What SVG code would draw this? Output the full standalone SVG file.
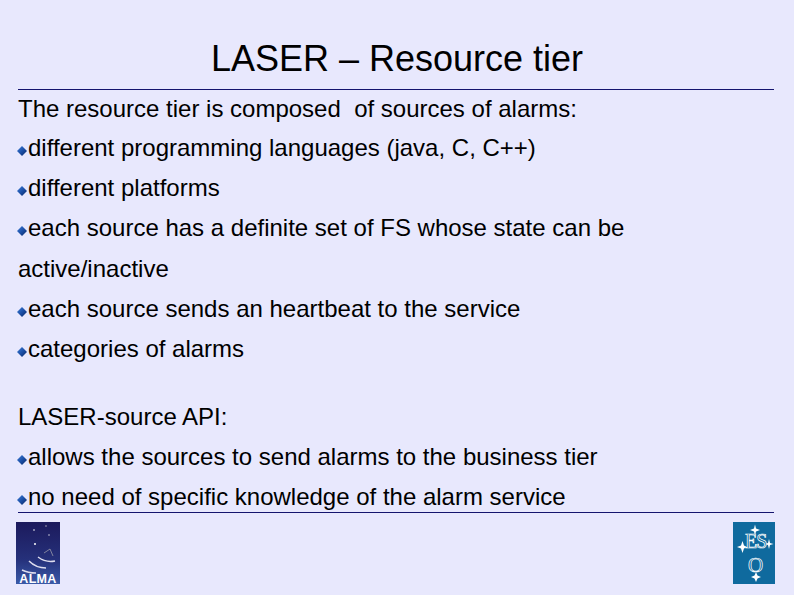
<svg xmlns="http://www.w3.org/2000/svg" width="794" height="595" viewBox="0 0 794 595">
<defs>
<linearGradient id="alma" x1="0" y1="0" x2="0" y2="1"><stop offset="0" stop-color="#1c1a5c"/><stop offset="0.6" stop-color="#25307a"/><stop offset="1" stop-color="#3a5aa8"/></linearGradient>
<linearGradient id="bul" x1="0" y1="0" x2="1" y2="1"><stop offset="0" stop-color="#3f7fd8"/><stop offset="0.5" stop-color="#1c50a8"/><stop offset="1" stop-color="#0a2560"/></linearGradient>
<g id="b"><path d="M0 0L5-5L10 0L5 5Z" fill="url(#bul)"/></g>
</defs>
<style>
text{font-family:"Liberation Sans",Arial,sans-serif;fill:#000;font-size:24px;white-space:pre}
.t{font-size:36px}
.r{stroke:#14146e;stroke-width:1;fill:none}
.s{fill:#fff}
.l{font-family:"Liberation Serif",serif;fill:#0f6a9e;stroke:#fff;stroke-width:0.700}
</style>
<rect width="794" height="595" fill="#e8e8fd"/>
<text class="t" x="397" y="71" text-anchor="middle">LASER – Resource tier</text>
<line class="r" x1="18" y1="89.500" x2="774" y2="89.500"/>
<line class="r" x1="18" y1="512.500" x2="774" y2="512.500"/>
<text x="18" y="117">The resource tier is composed  of sources of alarms:</text>
<use href="#b" x="17" y="151"/><text x="28" y="156">different programming languages (java, C, C++)</text>
<use href="#b" x="17" y="191"/><text x="28" y="196">different platforms</text>
<use href="#b" x="17" y="231"/><text x="28" y="236">each source has a definite set of FS whose state can be</text>
<text x="18" y="277">active/inactive</text>
<use href="#b" x="17" y="312"/><text x="28" y="317">each source sends an heartbeat to the service</text>
<use href="#b" x="17" y="352"/><text x="28" y="357">categories of alarms</text>
<text x="18" y="425">LASER-source API:</text>
<use href="#b" x="17" y="460"/><text x="28" y="465">allows the sources to send alarms to the business tier</text>
<use href="#b" x="17" y="500"/><text x="28" y="505">no need of specific knowledge of the alarm service</text>
<g id="alma-logo">
<rect x="16" y="522" width="44" height="62" fill="url(#alma)"/>
<circle cx="46" cy="526" r="0.800" fill="#aab"/><circle cx="34" cy="530" r="0.800" class="s"/><circle cx="49" cy="535" r="0.800" fill="#ccd"/><circle cx="35" cy="544" r="1" class="s"/>
<path d="M38 557Q46 563 55 561M29 561Q36 568 46 568M22 570Q28 573 36 573" stroke="#dde" stroke-width="1.500" fill="none"/>
<path d="M44 553L50 549L53 556" stroke="#99a" stroke-width="0.800" fill="none"/>
<text x="38" y="583" text-anchor="middle" style="font-size:12.500px;font-weight:bold;fill:#fff;letter-spacing:0.300px">ALMA</text>
</g>
<g id="eso-logo">
<rect x="733" y="522" width="42" height="62" fill="#0f6a9e"/>
<path d="M755 524.500L756 528.500L760 530L756 531.500L755 535.500L754 531.500L750 530L754 528.500Z" class="s"/>
<path d="M737 547L741 545.500L742.500 541L744 545.500L747 547L744 548.500L742.500 553L741 548.500Z" class="s"/>
<path d="M769 539L770 543L773.500 544L770 545L769 549L768 545L764.500 544L768 543Z" class="s"/>
<path d="M756 572L757.500 575.500L761 577L757.500 578.500L756 582L754.500 578.500L751 577L754.500 575.500Z" class="s"/>
<text class="l" x="745" y="548" style="font-size:20px;letter-spacing:-1px">ES</text>
<text class="l" x="748" y="571.500" style="font-size:21px">O</text>
</g>
</svg>
